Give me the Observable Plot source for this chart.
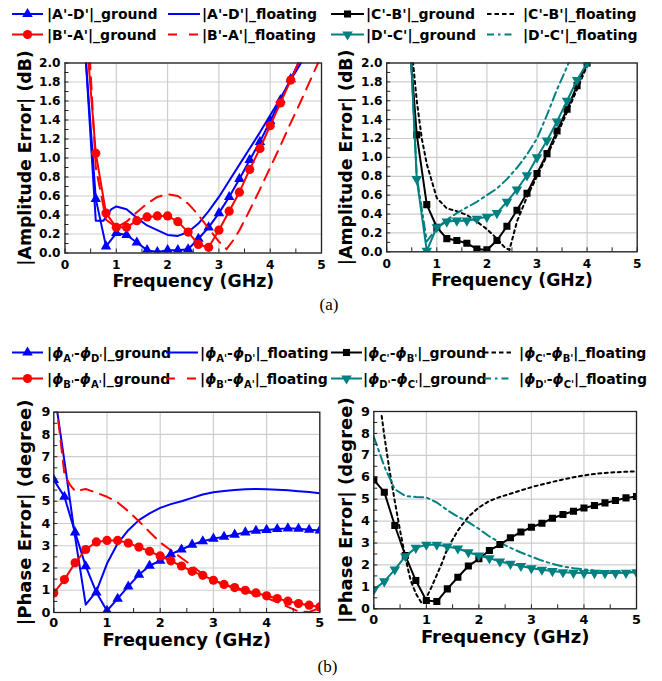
<!DOCTYPE html>
<html><head><meta charset="utf-8">
<script src="https://cdn.jsdelivr.net/npm/d3@7"></script>
<script src="https://cdn.jsdelivr.net/npm/@observablehq/plot@0.6"></script>
<style>
body{margin:0;background:#fff;}
#root{position:relative;width:662px;height:681px;overflow:hidden;background:#fff;}
.panel{position:absolute;}
</style></head><body><div id="root"></div>
<script>
// ---------- data ----------
const freqTicks = [0, 1, 2, 3, 4, 5];
const freqMinor = [0, 0.5, 1, 1.5, 2, 2.5, 3, 3.5, 4, 4.5, 5];
const ampTicks = [0, 0.2, 0.4, 0.6, 0.8, 1.0, 1.2, 1.4, 1.6, 1.8, 2.0];
const ampMinor = [0, 0.1, 0.2, 0.3, 0.4, 0.5, 0.6, 0.7, 0.8, 0.9, 1.0, 1.1, 1.2, 1.3, 1.4, 1.5, 1.6, 1.7, 1.8, 1.9, 2.0];
const phaseTicks = [0, 1, 2, 3, 4, 5, 6, 7, 8, 9];
const phaseMinor = [0, 0.5, 1, 1.5, 2, 2.5, 3, 3.5, 4, 4.5, 5, 5.5, 6, 6.5, 7, 7.5, 8, 8.5, 9];

// (a) amplitude error, left panel
const ampGroundX = [0.4, 0.6, 0.8, 1.0, 1.2, 1.4, 1.6, 1.8, 2.0, 2.2, 2.4, 2.6, 2.8, 3.0, 3.2, 3.4, 3.6, 3.8, 4.0, 4.2, 4.4, 4.6];
const ampAD_ground = [2.08, 0.57, 0.07, 0.21, 0.19, 0.11, 0.03, 0.01, 0.03, 0.03, 0.04, 0.15, 0.27, 0.42, 0.59, 0.78, 0.98, 1.17, 1.39, 1.61, 1.83, 2.06];
const ampBA_ground = [2.4, 1.05, 0.42, 0.27, 0.27, 0.34, 0.38, 0.39, 0.39, 0.33, 0.22, 0.09, 0.06, 0.24, 0.44, 0.64, 0.88, 1.1, 1.34, 1.58, 1.82, 2.06];
const ampAD_floatX = [0.4, 0.6, 0.75, 0.9, 1.0, 1.2, 1.4, 1.6, 1.8, 2.0, 2.2, 2.4, 2.6, 2.8, 3.0, 3.2, 3.4, 3.6, 3.8, 4.0, 4.2, 4.4, 4.6, 4.8];
const ampAD_float = [2.08, 0.34, 0.34, 0.46, 0.49, 0.46, 0.37, 0.29, 0.24, 0.19, 0.18, 0.22, 0.31, 0.44, 0.59, 0.76, 0.93, 1.1, 1.27, 1.45, 1.63, 1.82, 2.0, 2.2];
const ampBA_floatX = [0.4, 0.6, 0.8, 1.0, 1.2, 1.4, 1.6, 1.8, 2.0, 2.2, 2.4, 2.6, 2.8, 3.0, 3.15, 3.3, 3.4, 3.6, 3.8, 4.0, 4.2, 4.4, 4.6, 4.8, 5.0];
const ampBA_float = [2.9, 0.9, 0.35, 0.27, 0.33, 0.43, 0.52, 0.59, 0.62, 0.6, 0.52, 0.4, 0.26, 0.12, 0.04, 0.15, 0.24, 0.45, 0.67, 0.9, 1.13, 1.37, 1.6, 1.84, 2.08];

// (a) amplitude error, right panel
const ampGroundXR = [0.4, 0.6, 0.8, 1.0, 1.2, 1.4, 1.6, 1.8, 2.0, 2.2, 2.4, 2.6, 2.8, 3.0, 3.2, 3.4, 3.6, 3.8, 4.0, 4.2];
const ampCB_ground = [2.62, 1.24, 0.5, 0.26, 0.14, 0.12, 0.09, 0.03, 0.02, 0.12, 0.27, 0.44, 0.62, 0.83, 1.04, 1.28, 1.51, 1.76, 2.0, 2.24];
const ampDC_ground = [3.0, 0.77, 0.01, 0.26, 0.32, 0.33, 0.33, 0.35, 0.37, 0.41, 0.53, 0.66, 0.81, 1.0, 1.18, 1.38, 1.6, 1.82, 2.0, 2.2];
const ampCB_floatX = [0.4, 0.6, 0.7, 0.8, 1.0, 1.2, 1.4, 1.6, 1.8, 2.0, 2.2, 2.35, 2.45, 2.6, 2.8, 3.0, 3.2, 3.4, 3.6, 3.8, 4.0, 4.2];
const ampCB_float = [2.7, 1.6, 1.2, 0.93, 0.57, 0.46, 0.43, 0.39, 0.32, 0.24, 0.14, 0.05, 0.02, 0.32, 0.58, 0.8, 1.02, 1.24, 1.48, 1.72, 1.97, 2.22];
const ampDC_floatX = [0.4, 0.6, 0.8, 1.0, 1.2, 1.4, 1.6, 1.8, 2.0, 2.2, 2.4, 2.6, 2.8, 3.0, 3.2, 3.4, 3.6, 3.8];
const ampDC_float = [3.0, 0.8, 0.11, 0.25, 0.34, 0.41, 0.47, 0.53, 0.6, 0.67, 0.77, 0.89, 1.03, 1.2, 1.45, 1.72, 1.96, 2.22];

// (b) phase error
const phaseX = [0, 0.2, 0.4, 0.6, 0.8, 1.0, 1.2, 1.4, 1.6, 1.8, 2.0, 2.2, 2.4, 2.6, 2.8, 3.0, 3.2, 3.4, 3.6, 3.8, 4.0, 4.2, 4.4, 4.6, 4.8, 5.0];
const phAD_ground = [5.96, 5.2, 3.6, 2.08, 0.9, 0.08, 0.62, 1.17, 1.7, 2.1, 2.33, 2.62, 2.83, 3.05, 3.2, 3.32, 3.4, 3.5, 3.6, 3.67, 3.71, 3.75, 3.78, 3.76, 3.72, 3.69];
const phAD_float = [10.1, 6.8, 3.4, 0.35, 0.95, 2.2, 3.1, 3.7, 4.15, 4.45, 4.7, 4.87, 5.0, 5.15, 5.3, 5.4, 5.46, 5.5, 5.54, 5.55, 5.54, 5.52, 5.49, 5.45, 5.41, 5.36];
const phBA_ground = [0.88, 1.48, 2.23, 2.83, 3.17, 3.24, 3.24, 3.12, 2.94, 2.75, 2.54, 2.32, 2.09, 1.85, 1.67, 1.45, 1.26, 1.12, 1.0, 0.88, 0.75, 0.63, 0.51, 0.4, 0.33, 0.25];
const phBA_floatX = [0, 0.2, 0.3, 0.4, 0.6, 0.8, 1.0, 1.2, 1.4, 1.6, 1.8, 2.0, 2.2, 2.4, 2.6, 2.8, 3.0, 3.2, 3.4, 3.6, 3.8, 4.0, 4.2, 4.4, 4.6, 4.8, 5.0];
const phBA_float = [10.4, 6.2, 5.75, 5.45, 5.55, 5.38, 5.2, 4.95, 4.55, 4.1, 3.62, 3.15, 2.8, 2.45, 2.1, 1.72, 1.47, 1.25, 1.08, 0.94, 0.8, 0.65, 0.47, 0.25, 0.05, 0.02, 0.2];
const phCB_ground = [5.88, 5.32, 3.8, 2.43, 1.29, 0.38, 0.33, 0.91, 1.44, 1.95, 2.28, 2.66, 2.93, 3.24, 3.5, 3.72, 3.9, 4.13, 4.3, 4.45, 4.6, 4.71, 4.83, 4.94, 5.06, 5.12];
const phCB_floatX = [0.15, 0.2, 0.3, 0.4, 0.5, 0.6, 0.7, 0.8, 0.9, 1.0, 1.1, 1.2, 1.3, 1.4, 1.6, 1.8, 2.0, 2.2, 2.4, 2.6, 2.8, 3.0, 3.2, 3.4, 3.6, 3.8, 4.0, 4.2, 4.4, 4.6, 4.8, 5.0];
const phCB_float = [8.8, 7.9, 6.3, 4.9, 3.57, 2.35, 1.3, 0.7, 0.3, 0.5, 1.0, 1.55, 2.1, 2.75, 3.57, 4.2, 4.62, 4.92, 5.1, 5.25, 5.4, 5.55, 5.67, 5.79, 5.9, 6.0, 6.08, 6.15, 6.2, 6.23, 6.25, 6.27];
const phDC_ground = [0.87, 1.25, 1.79, 2.4, 2.78, 2.92, 2.92, 2.84, 2.75, 2.58, 2.43, 2.31, 2.16, 2.05, 1.95, 1.85, 1.78, 1.72, 1.67, 1.64, 1.63, 1.63, 1.63, 1.63, 1.64, 1.67];
const phDC_float = [7.85, 6.5, 5.45, 5.15, 5.1, 5.08, 4.85, 4.5, 4.2, 3.95, 3.65, 3.3, 3.02, 2.78, 2.57, 2.38, 2.2, 2.05, 1.93, 1.85, 1.8, 1.75, 1.72, 1.7, 1.68, 1.67];

// text
const xTitle = "Frequency (GHz)";
const ampTitle = "|Amplitude Error| (dB)";
const phaseTitle = "|Phase Error| (degree)";
const pairsTop = [["A'", "D'"], ["B'", "A'"], ["C'", "B'"], ["D'", "C'"]];
const suffixes = ["_ground", "_floating"];
const captions = ["(a)", "(b)"];

// ---------- styles ----------
const BLUE = "#0000ff", RED = "#ff0000", BLACK = "#000000", TEAL = "#008080";
const FONT = "DejaVu Sans";
const triDown = {draw(ctx, size) { const y = Math.sqrt(size / (Math.sqrt(3) * 3)); ctx.moveTo(0, 2 * y); ctx.lineTo(-Math.sqrt(3) * y, -y); ctx.lineTo(Math.sqrt(3) * y, -y); ctx.closePath(); }};
const DASH = "12,8", DOT = "3,3.5", DASHDOT = "9,4,2.5,4";
const zip = (xs, ys) => xs.map((x, i) => ({x, y: ys[i]}));

const root = document.getElementById("root");

function panel(cfg) {
  const ymax = cfg.yDomain[1];
  const marks = [
    Plot.gridX(freqTicks, {stroke: "#cdcdcd", strokeOpacity: 1, strokeWidth: 1.2}),
    Plot.gridY(cfg.yTicks, {stroke: "#cdcdcd", strokeOpacity: 1, strokeWidth: 1.2})
  ];
  for (const s of cfg.series) {
    const data = zip(s.xs, s.ys);
    marks.push(Plot.line(data, {x: "x", y: "y", stroke: s.color, strokeWidth: 2, strokeDasharray: s.dash || null, clip: true}));
    if (s.symbol) marks.push(Plot.dot(data.filter(d => d.y <= ymax + 1e-9), {x: "x", y: "y", symbol: s.symbol, r: s.r, fill: s.color, stroke: "none", clip: true}));
  }
  marks.push(
    Plot.frame({stroke: "#222", strokeWidth: 1.3}),
    Plot.axisX(freqMinor, {tickSize: -4, tickFormat: () => "", label: null, stroke: "#222"}),
    Plot.axisY(cfg.yMinor, {tickSize: -4, tickFormat: () => "", label: null, stroke: "#222"}),
    Plot.axisX(freqTicks, {tickSize: 0, tickPadding: cfg.xPad, tickFormat: d => String(d), label: null}),
    Plot.axisY(cfg.yTicks, {tickSize: 0, tickPadding: cfg.yPad, tickFormat: cfg.yFmt, label: null}),
    Plot.text([xTitle], {text: d => d, frameAnchor: "bottom", textAnchor: "middle", lineAnchor: "middle", dy: cfg.xTitleDy, fontSize: cfg.titleSize, fontWeight: "bold", fontFamily: FONT, fill: "black"}),
    Plot.text([cfg.yTitle], {text: d => d, frameAnchor: "left", textAnchor: "middle", lineAnchor: "middle", rotate: -90, dx: cfg.yTitleDx, fontSize: cfg.titleSize, fontWeight: "bold", fontFamily: FONT, fill: "black"})
  );
  const svg = Plot.plot({
    width: cfg.width, height: cfg.height,
    marginLeft: cfg.mL, marginRight: cfg.mR, marginTop: cfg.mT, marginBottom: cfg.mB,
    x: {domain: [0, 5], label: null},
    y: {domain: cfg.yDomain, label: null},
    style: {fontFamily: FONT, fontWeight: "bold", fontSize: cfg.tickFont + "px", color: "black", background: "transparent", overflow: "visible"},
    marks
  });
  svg.classList.add("panel");
  svg.style.position = "absolute";
  svg.style.left = cfg.left + "px";
  svg.style.top = cfg.top + "px";
  root.appendChild(svg);
}

panel({left: 0, top: 45, width: 331, height: 250, mL: 64.5, mR: 10, mT: 17.5, mB: 42.5,
  yDomain: [0, 2], yTicks: ampTicks, yMinor: ampMinor, yFmt: d => d.toFixed(1), tickFont: 12.2, xPad: 7.3, yPad: 4.5,
  xTitleDy: 28, yTitleDx: -39.5, titleSize: 17.3, yTitle: ampTitle,
  series: [
    {xs: ampAD_floatX, ys: ampAD_float, color: BLUE},
    {xs: ampGroundX, ys: ampAD_ground, color: BLUE, symbol: "triangle", r: 3.9},
    {xs: ampBA_floatX, ys: ampBA_float, color: RED, dash: DASH},
    {xs: ampGroundX, ys: ampBA_ground, color: RED, symbol: "circle", r: 4.6}
  ]});

panel({left: 331, top: 45, width: 331, height: 250, mL: 55.2, mR: 25.3, mT: 17.5, mB: 43.7,
  yDomain: [0, 2], yTicks: ampTicks, yMinor: ampMinor, yFmt: d => d.toFixed(1), tickFont: 12.2, xPad: 7.3, yPad: 4.2,
  xTitleDy: 28.6, yTitleDx: -40, titleSize: 17.3, yTitle: ampTitle,
  series: [
    {xs: ampCB_floatX, ys: ampCB_float, color: BLACK, dash: DOT},
    {xs: ampDC_floatX, ys: ampDC_float, color: TEAL, dash: DASHDOT},
    {xs: ampGroundXR, ys: ampCB_ground, color: BLACK, symbol: "square", r: 4},
    {xs: ampGroundXR, ys: ampDC_ground, color: TEAL, symbol: triDown, r: 3.9}
  ]});

panel({left: 0, top: 395, width: 331, height: 260, mL: 53.3, mR: 11.7, mT: 16.7, mB: 43,
  yDomain: [0, 9], yTicks: phaseTicks, yMinor: phaseMinor, yFmt: d => String(d), tickFont: 12.8, xPad: 5.3, yPad: 3.5,
  xTitleDy: 28, yTitleDx: -29, titleSize: 18, yTitle: phaseTitle,
  series: [
    {xs: phaseX, ys: phAD_float, color: BLUE},
    {xs: phBA_floatX, ys: phBA_float, color: RED, dash: DASH},
    {xs: phaseX, ys: phAD_ground, color: BLUE, symbol: "triangle", r: 3.9},
    {xs: phaseX, ys: phBA_ground, color: RED, symbol: "circle", r: 4.6}
  ]});

panel({left: 331, top: 395, width: 331, height: 260, mL: 42.3, mR: 26, mT: 16, mB: 46.7,
  yDomain: [0, 9], yTicks: phaseTicks, yMinor: phaseMinor, yFmt: d => String(d), tickFont: 12.8, xPad: 6.2, yPad: 4,
  xTitleDy: 28.2, yTitleDx: -27.3, titleSize: 18, yTitle: phaseTitle,
  series: [
    {xs: phCB_floatX, ys: phCB_float, color: BLACK, dash: DOT},
    {xs: phaseX, ys: phDC_float, color: TEAL, dash: DASHDOT},
    {xs: phaseX, ys: phCB_ground, color: BLACK, symbol: "square", r: 4},
    {xs: phaseX, ys: phDC_ground, color: TEAL, symbol: triDown, r: 3.9}
  ]});

// ---------- legends & captions ----------
const ov = d3.select(root).append("svg")
  .attr("width", 662).attr("height", 681)
  .style("position", "absolute").style("left", "0px").style("top", "0px")
  .attr("font-family", FONT).attr("font-weight", "bold");

const symFor = s => s === "triangle" ? d3.symbolTriangle : s === "circle" ? d3.symbolCircle : s === "square" ? d3.symbolSquare : s;

const seriesStyle = [
  {color: BLUE, symbol: "triangle", r: 3.9, dash: null},
  {color: RED, symbol: "circle", r: 4.6, dash: "9,12"},
  {color: BLACK, symbol: "square", r: 4, dash: "4.5,3"},
  {color: TEAL, symbol: triDown, r: 3.9, dash: "7,4,2.5,4"}
];

function legend(rows, phase, cols) {
  for (let i = 0; i < 4; i++) {
    const block = i >= 2 ? 1 : 0;
    const row = i % 2 === 0 ? 0 : 1;
    const y = rows[row];
    const st = seriesStyle[i];
    const c = cols[block];
    for (let k = 0; k < 2; k++) {
      const x1 = c[k * 3], x2 = c[k * 3 + 1], tx = c[k * 3 + 2];
      const g = ov.append("g");
      const dash = k === 1 ? st.dash : null;
      g.append("line").attr("x1", x1).attr("x2", x2).attr("y1", y).attr("y2", y)
        .attr("stroke", st.color).attr("stroke-width", 2).attr("stroke-dasharray", dash);
      if (k === 0) g.append("path").attr("transform", `translate(${(x1 + x2) / 2},${y})`)
        .attr("d", d3.symbol(symFor(st.symbol), Math.PI * st.r * st.r)()).attr("fill", st.color);
      const t = g.append("text").attr("x", tx).attr("y", y + 5.1).attr("font-size", 14).attr("fill", "black");
      const [p, q] = pairsTop[i];
      if (!phase) {
        t.text(`|${p}-${q}|${suffixes[k]}`);
      } else {
        t.append("tspan").text("|");
        t.append("tspan").attr("font-style", "italic").text("ϕ");
        t.append("tspan").attr("font-size", 10).attr("dy", 4).text(p);
        t.append("tspan").attr("dy", -4).text("-");
        t.append("tspan").attr("font-style", "italic").text("ϕ");
        t.append("tspan").attr("font-size", 10).attr("dy", 4).text(q);
        t.append("tspan").attr("dy", -4).text(`|${suffixes[k]}`);
      }
    }
  }
}

legend([14, 34.5], false, [[12, 43, 47, 168, 200, 202], [331, 364, 366, 487, 515, 523]]);
legend([352.5, 378.5], true, [[12, 43, 47, 166, 198, 200], [331, 362, 363, 484, 511, 519]]);

ov.append("text").attr("x", 329).attr("y", 309.5).attr("text-anchor", "middle")
  .attr("font-family", "Liberation Serif").attr("font-weight", "normal").attr("font-size", 17).text(captions[0]);
ov.append("text").attr("x", 327.5).attr("y", 672).attr("text-anchor", "middle")
  .attr("font-family", "Liberation Serif").attr("font-weight", "normal").attr("font-size", 17).text(captions[1]);
</script></body></html>
